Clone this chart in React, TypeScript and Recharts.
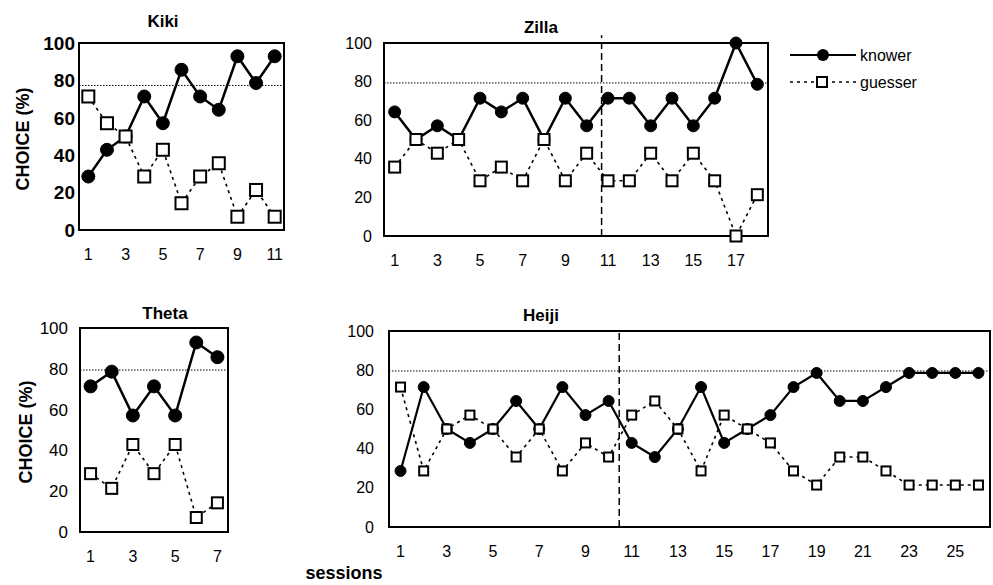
import React from "react";
import { LineChart, Line, XAxis, YAxis, ReferenceLine, ReferenceArea } from "recharts";

const FONT = '"Liberation Sans", Arial, sans-serif';

// choice (%) per session
const kikiKnower = [28.6, 42.9, 50, 71.4, 57.1, 85.7, 71.4, 64.3, 92.9, 78.6, 92.9];
const kikiGuesser = [71.4, 57.1, 50, 28.6, 42.9, 14.3, 28.6, 35.7, 7.1, 21.4, 7.1];

const zillaKnower = [64.3, 50, 57.1, 50, 71.4, 64.3, 71.4, 50, 71.4, 57.1, 71.4, 71.4, 57.1, 71.4, 57.1, 71.4, 100, 78.6];
const zillaGuesser = [35.7, 50, 42.9, 50, 28.6, 35.7, 28.6, 50, 28.6, 42.9, 28.6, 28.6, 42.9, 28.6, 42.9, 28.6, 0, 21.4];

const thetaKnower = [71.4, 78.6, 57.1, 71.4, 57.1, 92.9, 85.7];
const thetaGuesser = [28.6, 21.4, 42.9, 28.6, 42.9, 7.1, 14.3];

const heijiKnower = [28.6, 71.4, 50, 42.9, 50, 64.3, 50, 71.4, 57.1, 64.3, 42.9, 35.7, 50, 71.4, 42.9, 50, 57.1, 71.4, 78.6, 64.3, 64.3, 71.4, 78.6, 78.6, 78.6, 78.6];
const heijiGuesser = [71.4, 28.6, 50, 57.1, 50, 35.7, 50, 28.6, 42.9, 35.7, 57.1, 64.3, 50, 28.6, 57.1, 50, 42.9, 28.6, 21.4, 35.7, 35.7, 28.6, 21.4, 21.4, 21.4, 21.4];

const kikiTicks = [1, 3, 5, 7, 9, 11];
const zillaTicks = [1, 3, 5, 7, 9, 11, 13, 15, 17];
const thetaTicks = [1, 3, 5, 7];
const heijiTicks = [1, 3, 5, 7, 9, 11, 13, 15, 17, 19, 21, 23, 25];
const yTicks = [0, 20, 40, 60, 80, 100];

function squareDot(size: number) {
  return (props: any) => {
    const { cx, cy, index } = props;
    if (cx == null || cy == null) return <g key={index} />;
    return (
      <rect
        key={index}
        x={cx - size / 2}
        y={cy - size / 2}
        width={size}
        height={size}
        fill="#fff"
        stroke="#000"
        strokeWidth={2}
      />
    );
  };
}

function Panel(props: any) {
  const {
    left, top, width, height, margin, yWidth, xHeight,
    knower, guesser, xTicks, threshold, divider, dividerTop,
    r, sq, yTick, xTick, ySize, lineW,
  } = props;
  const rows = knower.map((k: number, i: number) => ({
    session: i + 1,
    knower: k,
    guesser: guesser[i],
  }));
  const xMax = rows.length + 0.5;

  return (
    <div style={{ position: "absolute", left, top, width, height }}>
      <LineChart width={width} height={height} data={rows} margin={margin}>
        <XAxis
          dataKey="session"
          type="number"
          domain={[0.5, xMax]}
          ticks={xTicks}
          interval={0}
          tickLine={false}
          tickSize={17}
          tickMargin={2}
          axisLine={false}
          height={xHeight}
          tick={xTick}
        />
        <YAxis
          domain={[0, 100]}
          ticks={yTicks}
          interval={0}
          tickLine={false}
          tickSize={ySize}
          tickMargin={2}
          axisLine={false}
          width={yWidth}
          tick={yTick}
        />
        <ReferenceLine y={threshold} stroke="#000" strokeWidth={1} strokeDasharray="1.5 1.5" />
        {divider != null ? (
          <ReferenceLine
            segment={[{ x: divider, y: 0 }, { x: divider, y: dividerTop }]}
            ifOverflow="visible"
            stroke="#000"
            strokeWidth={1.5}
            strokeDasharray="7 4"
          />
        ) : null}
        <ReferenceArea
          x1={0.5}
          x2={xMax}
          y1={0}
          y2={100}
          fill="none"
          fillOpacity={0}
          stroke="#000"
          strokeWidth={2}
          strokeOpacity={1}
        />
        <Line
          dataKey="knower"
          stroke="#000"
          strokeWidth={lineW}
          dot={{ r, fill: "#000", stroke: "#000", strokeWidth: 1 }}
          isAnimationActive={false}
        />
        <Line
          dataKey="guesser"
          stroke="#000"
          strokeWidth={1.6}
          strokeDasharray="3 4"
          dot={squareDot(sq)}
          isAnimationActive={false}
        />
      </LineChart>
    </div>
  );
}

export default function App() {
  const tickBig = { fontSize: 19, fontWeight: 700, fill: "#000", fontFamily: FONT };
  const tickMid = { fontSize: 16, fill: "#000", fontFamily: FONT };
  const tickX = { fontSize: 16, fill: "#000", fontFamily: FONT };

  return (
    <div style={{ position: "absolute", left: 0, top: 0, width: 993, height: 585, background: "#fff", fontFamily: FONT }}>
      <Panel
        left={0} top={0} width={300} height={280}
        margin={{ top: 43, right: 16, bottom: 0, left: 0 }}
        yWidth={79} xHeight={50} ySize={2}
        knower={kikiKnower} guesser={kikiGuesser} xTicks={kikiTicks}
        threshold={77.3} r={6.5} sq={12} lineW={2.5}
        yTick={tickBig} xTick={tickX}
      />
      <Panel
        left={300} top={0} width={480} height={280}
        margin={{ top: 43, right: 12, bottom: 0, left: 0 }}
        yWidth={84} xHeight={44} ySize={10}
        knower={zillaKnower} guesser={zillaGuesser} xTicks={zillaTicks}
        threshold={79.3} divider={10.7} dividerTop={104}
        r={6} sq={11} lineW={2.5}
        yTick={tickMid} xTick={tickX}
      />
      <Panel
        left={0} top={280} width={240} height={305}
        margin={{ top: 48, right: 12, bottom: 0, left: 0 }}
        yWidth={80} xHeight={53} ySize={10}
        knower={thetaKnower} guesser={thetaGuesser} xTicks={thetaTicks}
        threshold={79.4} r={6.5} sq={11} lineW={2.5}
        yTick={{ ...tickMid, fontSize: 17 }} xTick={tickX}
      />
      <Panel
        left={300} top={280} width={693} height={305}
        margin={{ top: 51, right: 3, bottom: 0, left: 0 }}
        yWidth={89} xHeight={58} ySize={13}
        knower={heijiKnower} guesser={heijiGuesser} xTicks={heijiTicks}
        threshold={79.6} divider={10.46} dividerTop={100}
        r={5.5} sq={9} lineW={2.2}
        yTick={tickMid} xTick={tickX}
      />

      <svg width={993} height={585} style={{ position: "absolute", left: 0, top: 0, pointerEvents: "none" }}>
        <g fontFamily={FONT} fill="#000">
          <text x={163} y={27} fontSize={17} fontWeight={700} textAnchor="middle">Kiki</text>
          <text x={541} y={33} fontSize={17} fontWeight={700} textAnchor="middle">Zilla</text>
          <text x={165} y={319} fontSize={17} fontWeight={700} textAnchor="middle">Theta</text>
          <text x={541} y={321} fontSize={17} fontWeight={700} textAnchor="middle">Heiji</text>

          <text x={0} y={0} fontSize={18} fontWeight={700} textAnchor="middle"
            transform="translate(29 139) rotate(-90)">CHOICE (%)</text>
          <text x={0} y={0} fontSize={18} fontWeight={700} textAnchor="middle"
            transform="translate(32 432) rotate(-90)">CHOICE (%)</text>

          <text x={344} y={579} fontSize={18} fontWeight={700} textAnchor="middle">sessions</text>

          <line x1={790} y1={55} x2={856} y2={55} stroke="#000" strokeWidth={2} />
          <circle cx={823} cy={55} r={6} fill="#000" />
          <text x={860} y={61} fontSize={16}>knower</text>
          <line x1={790} y1={82} x2={856} y2={82} stroke="#000" strokeWidth={1.6} strokeDasharray="3 4" />
          <rect x={817} y={77} width={10} height={10} fill="#fff" stroke="#000" strokeWidth={2} />
          <text x={860} y={88} fontSize={16}>guesser</text>
        </g>
      </svg>
    </div>
  );
}
